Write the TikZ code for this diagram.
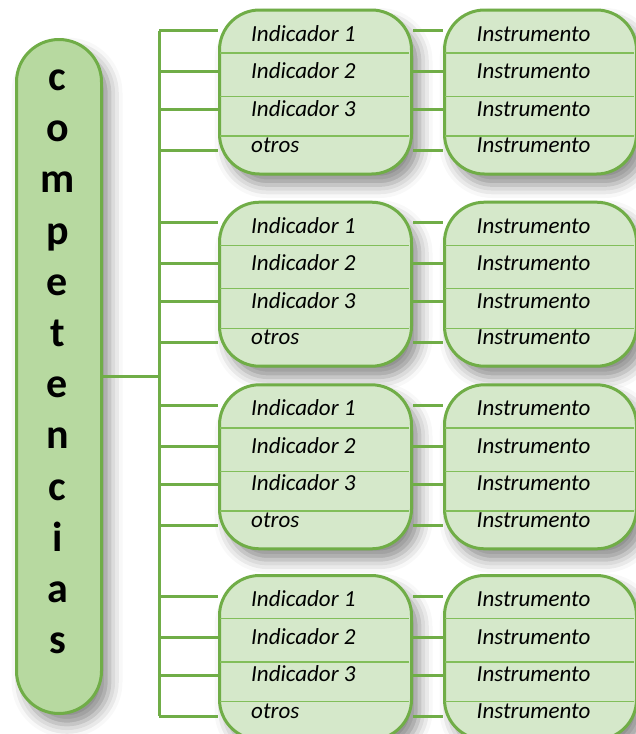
\documentclass[tikz,border=0pt]{standalone}
\usepackage{fontspec}
\setmainfont{Carlito}
\usetikzlibrary{shadows.blur}
\definecolor{gborder}{RGB}{112,173,71}
\definecolor{gsep}{RGB}{130,190,90}
\definecolor{gfill}{RGB}{213,232,202}
\definecolor{gfilldark}{RGB}{183,217,160}
\begin{document}
\begin{tikzpicture}[x=1pt,y=-1pt,
  conn/.style={draw=gborder,line width=3pt},
  sep/.style={draw=gsep,line width=1.5pt},
  boxshadow/.style={blur shadow={shadow xshift=8pt,shadow yshift=-11pt,shadow blur radius=13pt,shadow opacity=45}},
  ibox/.style={draw=gborder,line width=3pt,fill=gfill,rounded corners=40pt,minimum width=192pt,minimum height=164pt,anchor=north west,inner sep=0pt,boxshadow},
  itext/.style={font=\fontsize{23}{28}\selectfont\itshape,anchor=base west,inner sep=0pt},
  letter/.style={font=\fontsize{42}{50}\selectfont\bfseries,anchor=base,inner sep=0pt}]
\useasboundingbox (0,0) rectangle (636,734);

% main tall box
\node[ibox, fill=gfilldark, rounded corners=42.5pt, minimum width=85pt, minimum height=674pt] (comp) at (15,38) {};
\foreach \l [count=\k from 0] in {c,o,m,p,e,t,e,n,c,i,a,s}
  \node[letter] (L\k) at (57.5, 90.5+51.2*\k) {\l};

\foreach \g/\t in {1/8.5,2/200.7,3/383.3,4/574} {
  \node[ibox] (ind\g) at (218,\t) {};
  \node[ibox] (ins\g) at (443,\t) {};
  \foreach \s in {44.7,88,127.7} {
    \draw[sep] (219.5,\t+\s) -- (408.5,\t+\s);
    \draw[sep] (444.5,\t+\s) -- (633.5,\t+\s);
  }
  \foreach \r/\o/\bo in {1/22/32.5,2/63/70,3/101/107.5,4/142/144} {
    \coordinate (b\g\r) at (159,\t+\o);
    \draw[conn] (b\g\r) -- (b\g\r -| ind\g.west);
    \draw[conn] (ind\g.east |- b\g\r) -- (ins\g.west |- b\g\r);
    \node[itext] (st\g\r) at (476.5,\t+\bo) {Instrumento};
  }
  \node[itext] (it\g1) at (251,\t+32.5) {Indicador 1};
  \node[itext] (it\g2) at (251,\t+70) {Indicador 2};
  \node[itext] (it\g3) at (251,\t+107.5) {Indicador 3};
  \node[itext] (it\g4) at (251,\t+144) {otros};
}

% bus
\draw[conn] (b11) -- (b44);
\draw[conn] (comp.east) -- (comp.east -| b11);
\end{tikzpicture}
\end{document}
